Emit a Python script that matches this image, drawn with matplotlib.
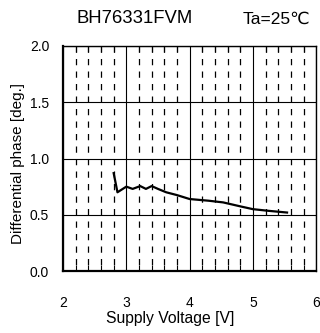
import numpy as np
import matplotlib.pyplot as plt
from matplotlib.ticker import MultipleLocator

plt.rcParams['font.family'] = ['Liberation Sans', 'DejaVu Sans']

# supply voltage [V] vs differential phase [deg.]
voltage = [2.8, 2.86, 3.0, 3.1, 3.22, 3.31, 3.4, 3.5, 3.63, 3.8, 4.0, 4.3, 4.53, 4.8, 5.0, 5.25, 5.54]
phase = [0.87, 0.70, 0.75, 0.73, 0.755, 0.73, 0.755, 0.73, 0.70, 0.675, 0.64, 0.625, 0.61, 0.575, 0.55, 0.535, 0.52]

title = 'BH76331FVM'
cond = 'Ta=25\u2103'

fig = plt.figure(figsize=(3.2, 3.33), dpi=100)
ax = fig.add_axes([0.197, 0.186, 0.791, 0.676])

ax.set_xlim(2, 6)
ax.set_ylim(0, 2)
ax.xaxis.set_major_locator(MultipleLocator(1))
ax.xaxis.set_minor_locator(MultipleLocator(0.2))
ax.yaxis.set_major_locator(MultipleLocator(0.5))

# major grid solid, minor vertical grid dashed
ax.grid(which='major', color='black', linewidth=0.8, linestyle='-')
ax.grid(which='minor', axis='x', color='black', linewidth=0.9, linestyle=(5, (5, 5)))

ax.tick_params(which='major', length=0, labelsize=10)
ax.tick_params(which='minor', direction='in', length=4, top=True, bottom=True, width=0.8)
ax.tick_params(axis='x', which='major', pad=18)
ax.tick_params(axis='y', which='major', pad=10)
ax.xaxis.set_major_formatter(plt.FormatStrFormatter('%d'))
ax.yaxis.set_major_formatter(plt.FormatStrFormatter('%.1f'))

for s in ['left', 'bottom']:
    ax.spines[s].set_linewidth(1.6)
for s in ['top', 'right']:
    ax.spines[s].set_linewidth(1.0)

ax.plot(voltage, phase, color='black', linewidth=1.6)

ax.set_xlabel('Supply Voltage [V]', fontsize=11.3)
ax.xaxis.set_label_coords(0.423, -0.178)
ax.set_ylabel('Differential phase [deg.]', fontsize=11)
ax.yaxis.set_label_coords(-0.152, 0.48)

fig.text(0.42, 0.945, title, fontsize=13.3, ha='center', va='center')
fig.text(0.863, 0.943, cond, fontsize=12.5, ha='center', va='center')

fig.savefig('out.png', dpi=100)
